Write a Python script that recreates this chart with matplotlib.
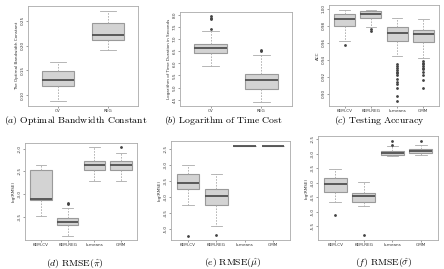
import matplotlib
matplotlib.use("Agg")
import matplotlib.pyplot as plt
from matplotlib.ticker import FormatStrFormatter

plt.rcParams['mathtext.fontset'] = 'cm'
plt.rcParams['font.family'] = ['DejaVu Sans']

# ---------------- data ----------------
cats_ab = ["CV", "REG"]
cats_cf = ["KEM-CV", "KEM-REG", "k-means", "GMM"]

# (a) optimal bandwidth constant
a_lo = [0.088, 0.191]
a_q1 = [0.118, 0.211]
a_med = [0.131, 0.221]
a_q3 = [0.148, 0.245]
a_hi = [0.166, 0.270]
a_fl = [[], []]

# (b) log time
b_lo = [5.90, 4.42]
b_q1 = [6.42, 4.95]
b_med = [6.64, 5.30]
b_q3 = [6.80, 5.55]
b_hi = [7.32, 6.35]
b_fl = [[7.40, 7.80, 7.86, 7.93], [6.50, 6.55]]

# (c) testing accuracy
c_lo = [0.962, 0.979, 0.944, 0.9416]
c_q1 = [0.980, 0.989, 0.962, 0.961]
c_med = [0.9877, 0.994, 0.972, 0.9706]
c_q3 = [0.9938, 0.997, 0.978, 0.975]
c_hi = [0.999, 0.999, 0.989, 0.988]
c_fl = [[0.957], [0.976, 0.974],
        [0.935, 0.9327, 0.930, 0.928, 0.926, 0.924, 0.9216, 0.9176,
         0.914, 0.911, 0.9065, 0.897, 0.891],
        [0.939, 0.9367, 0.9347, 0.9327, 0.9306, 0.9286, 0.9257, 0.9224,
         0.9163, 0.907]]

# (d) RMSE pi
d_lo = [-3.48, -3.92, -2.72, -2.72]
d_q1 = [-3.14, -3.68, -2.46, -2.47]
d_med = [-3.11, -3.61, -2.35, -2.35]
d_q3 = [-2.46, -3.52, -2.26, -2.28]
d_hi = [-2.35, -3.32, -1.97, -2.10]
d_fl = [[], [-3.20, -3.23], [], [-1.97]]

# (e) RMSE mu
e_lo = [-4.24, -4.90, -2.43, -2.43]
e_q1 = [-3.77, -4.25, -2.422, -2.422]
e_med = [-3.58, -3.96, -2.418, -2.418]
e_q3 = [-3.29, -3.77, -2.414, -2.414]
e_hi = [-3.02, -3.29, -2.405, -2.405]
e_fl = [[-5.20], [-5.17], [], []]

# (f) RMSE sigma
f_lo = [-4.66, -4.80, -3.09, -3.03]
f_q1 = [-4.31, -4.65, -3.03, -2.97]
f_med = [-4.03, -4.47, -2.97, -2.91]
f_q3 = [-3.83, -4.35, -2.90, -2.83]
f_hi = [-3.53, -3.99, -2.74, -2.69]
f_fl = [[-5.10], [-5.81], [-2.55, -2.69], [-2.55]]

a_ticks = [0.10, 0.15, 0.20, 0.25]
b_ticks = [4.5, 5.0, 5.5, 6.0, 6.5, 7.0, 7.5, 8.0]
c_ticks = [0.90, 0.92, 0.94, 0.96, 0.98, 1.00]
d_ticks = [-3.5, -3.0, -2.5, -2.0]
e_ticks = [-5.0, -4.5, -4.0, -3.5, -3.0, -2.5]
f_ticks = [-5.5, -5.0, -4.5, -4.0, -3.5, -3.0, -2.5]

captions = [r"$(a)\ \mathrm{Optimal\ Bandwidth\ Constant}$",
            r"$(b)\ \mathrm{Logarithm\ of\ Time\ Cost}$",
            r"$(c)\ \mathrm{Testing\ Accuracy}$",
            r"$(d)\ \mathrm{RMSE}(\hat{\pi})$",
            r"$(e)\ \mathrm{RMSE}(\hat{\mu})$",
            r"$(f)\ \mathrm{RMSE}(\hat{\sigma})$"]

# ---------------- layout ----------------
W, H = 444, 269
fig = plt.figure(figsize=(W / 100, H / 100), dpi=100)

# pixel boxes: left, top, right, bottom
boxes = [(28, 6, 138, 106), (180, 12, 292, 106), (329, 5, 439, 106),
         (25, 143, 137, 240), (171, 141, 290, 240), (318, 136, 438, 240)]
cap_pos = [(76, 120.5), (223, 120.5), (379, 120.5), (75, 263.5), (233, 263.5), (384, 263.5)]

panels = [
    (cats_ab, a_lo, a_q1, a_med, a_q3, a_hi, a_fl, a_ticks, "%.2f", "The Optimal Bandwidth Constant"),
    (cats_ab, b_lo, b_q1, b_med, b_q3, b_hi, b_fl, b_ticks, "%.1f", "Logarithm of Time Duration in Seconds"),
    (cats_cf, c_lo, c_q1, c_med, c_q3, c_hi, c_fl, c_ticks, "%.2f", "ACC"),
    (cats_cf, d_lo, d_q1, d_med, d_q3, d_hi, d_fl, d_ticks, "%.1f", "log(RMSE)"),
    (cats_cf, e_lo, e_q1, e_med, e_q3, e_hi, e_fl, e_ticks, "%.1f", "log(RMSE)"),
    (cats_cf, f_lo, f_q1, f_med, f_q3, f_hi, f_fl, f_ticks, "%.1f", "log(RMSE)"),
]

edge = "#9a9a9a"
for (cats, lo, q1, med, q3, hi, fl, ticks, fmt, ylab), (l, t, r, b), (cx, cy), cap in zip(
        panels, boxes, cap_pos, captions):
    ax = fig.add_axes([l / W, 1 - b / H, (r - l) / W, (b - t) / H])
    stats = []
    for i, c in enumerate(cats):
        stats.append(dict(label=c, whislo=lo[i], q1=q1[i], med=med[i],
                          q3=q3[i], whishi=hi[i], fliers=fl[i]))
    ax.bxp(stats, widths=0.8 if len(cats) == 4 else 0.65, patch_artist=True,
           boxprops=dict(facecolor="#d3d3d3", edgecolor=edge, linewidth=0.8),
           medianprops=dict(color="#505050", linewidth=1.3),
           whiskerprops=dict(color="#aaaaaa", linewidth=0.6, linestyle=(0, (2, 1.5))),
           capprops=dict(color="#aaaaaa", linewidth=0.6),
           capwidths=0.4 if len(cats) == 4 else 0.32,
           flierprops=dict(marker="o", markersize=1.0, markerfacecolor="#444444",
                           markeredgecolor="#444444", linestyle="none"))
    allv = lo + hi + [v for f in fl for v in f]
    vmin, vmax = min(allv), max(allv)
    pad = (vmax - vmin) * 0.05
    ax.set_ylim(vmin - pad, vmax + pad)
    ax.set_xlim(0.4, len(cats) + 0.6)
    ax.set_yticks(ticks)
    ax.yaxis.set_major_formatter(FormatStrFormatter(fmt))
    ax.tick_params(axis="both", labelsize=3, length=1.5, width=0.4, pad=0.8,
                   colors="#555555", labelcolor="#333333")
    for lbl in ax.get_yticklabels():
        lbl.set_rotation(90)
        lbl.set_va("center")
    ax.set_ylabel(ylab, fontsize=3, labelpad=1.5, color="#333333")
    for s in ax.spines.values():
        s.set_color("#aaaaaa")
        s.set_linewidth(0.6)
    fig.text(cx / W, 1 - cy / H, cap, ha="center", va="center", fontsize=7)

fig.savefig("out.png", dpi=100)
